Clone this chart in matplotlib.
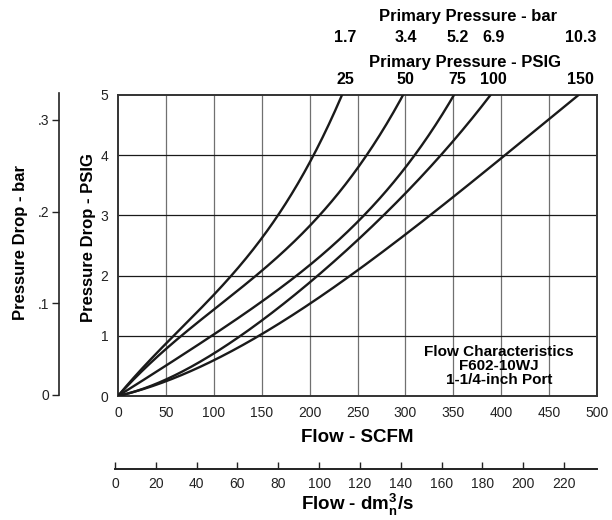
#!/usr/bin/env python3
# === Flow characteristics chart: pressure drop vs flow for several primary pressures ===

import numpy as np
import matplotlib
matplotlib.use("Agg")
import matplotlib.pyplot as plt
import matplotlib.transforms as mtransforms

plt.rcParams['font.family'] = ['Liberation Sans', 'DejaVu Sans']
plt.rcParams['mathtext.fontset'] = 'custom'
plt.rcParams['mathtext.rm'] = 'Liberation Sans'
plt.rcParams['mathtext.bf'] = 'Liberation Sans:bold'

# === Data ===
psig_25_flow = [0, 50, 100, 150, 200, 234]
psig_25_drop = [0, 0.85, 1.72, 2.58, 3.90, 5.0]

psig_50_flow = [0, 50, 100, 150, 200, 250, 297]
psig_50_drop = [0, 0.71, 1.48, 2.10, 2.82, 3.75, 5.0]

psig_75_flow = [0, 50, 100, 150, 200, 250, 300, 351]
psig_75_drop = [0, 0.46, 1.07, 1.57, 2.15, 2.88, 3.82, 5.0]

psig_100_flow = [0, 50, 100, 150, 200, 250, 300, 350, 389]
psig_100_drop = [0, 0.30, 0.68, 1.24, 1.92, 2.58, 3.35, 4.25, 5.0]

psig_150_flow = [0, 50, 100, 150, 200, 250, 300, 350, 400, 450, 480]
psig_150_drop = [0, 0.27, 0.58, 1.02, 1.52, 2.10, 2.70, 3.28, 3.97, 4.58, 5.0]

curves = [
    (psig_25_flow, psig_25_drop),
    (psig_50_flow, psig_50_drop),
    (psig_75_flow, psig_75_drop),
    (psig_100_flow, psig_100_drop),
    (psig_150_flow, psig_150_drop),
]

psig_labels = ['25', '50', '75', '100', '150']
bar_labels = ['1.7', '3.4', '5.2', '6.9', '10.3']

scfm_ticks = [0, 50, 100, 150, 200, 250, 300, 350, 400, 450, 500]
psig_ticks = [0, 1, 2, 3, 4, 5]
dm3_ticks = [0, 20, 40, 60, 80, 100, 120, 140, 160, 180, 200, 220]
bar_ticks = [0, 0.1, 0.2, 0.3]
bar_tick_labels = ['0', '.1', '.2', '.3']

SCFM_TO_DM3S = 0.4719

W, H = 612, 520


def smooth(flow, drop):
    # least squares polynomial through the origin, just to draw a smooth line
    x = np.asarray(flow, float)
    y = np.asarray(drop, float)
    deg = 4 if len(x) > 7 else 3
    A = np.vstack([x**k for k in range(1, deg + 1)]).T
    coef = np.linalg.lstsq(A, y, rcond=None)[0]
    xs = np.linspace(0, x[-1] * 1.03, 300)
    ys = sum(c * xs**(k + 1) for k, c in enumerate(coef))
    return xs, ys


fig = plt.figure(figsize=(W / 100, H / 100), dpi=100)

# === Main axes ===
ax = fig.add_axes([118 / W, 124 / H, 479 / W, 301 / H])
ax.set_xlim(0, 500)
ax.set_ylim(0, 5)
ax.set_xticks(scfm_ticks)
ax.set_yticks(psig_ticks)
ax.tick_params(length=0, labelsize=10, pad=7, labelcolor='#222222')
for v in scfm_ticks[1:-1]:
    ax.axvline(v, color='#707070', lw=0.9, zorder=1)
for v in psig_ticks[1:-1]:
    ax.axhline(v, color='#1a1a1a', lw=0.9, zorder=1)
for s in ax.spines.values():
    s.set_color('#333333')
    s.set_linewidth(1.4)

for flow, drop in curves:
    xs, ys = smooth(flow, drop)
    ax.plot(xs, ys, color='#1a1a1a', lw=1.7, zorder=3, solid_capstyle='round')

fig.text(357 / W, 1 - 438 / H, 'Flow - SCFM', ha='center', va='center',
         fontsize=13.5, fontweight='bold')

fig.text(499 / W, 1 - 366 / H, 'Flow Characteristics\nF602-10WJ\n1-1/4-inch Port',
         ha='center', va='center', fontsize=11, fontweight='bold', linespacing=1.0)

# === Top labels at curve ends ===
top = mtransforms.blended_transform_factory(ax.transData, fig.transFigure)
shift = mtransforms.ScaledTranslation(3 / 100, 0, fig.dpi_scale_trans)
for (flow, drop), p, b in zip(curves, psig_labels, bar_labels):
    ax.text(flow[-1], 1 - 80 / H, p, transform=top + shift, ha='center', va='center',
            fontsize=11.5, fontweight='bold', clip_on=False)
    ax.text(flow[-1], 1 - 37 / H, b, transform=top + shift, ha='center', va='center',
            fontsize=11.5, fontweight='bold', clip_on=False)
fig.text(465 / W, 1 - 62 / H, 'Primary Pressure - PSIG', ha='center', va='center',
         fontsize=12, fontweight='bold')
fig.text(468 / W, 1 - 16 / H, 'Primary Pressure - bar', ha='center', va='center',
         fontsize=12, fontweight='bold')

# === Left labels ===
fig.text(88 / W, 1 - 238 / H, 'Pressure Drop - PSIG', rotation=90, ha='center', va='center',
         fontsize=12, fontweight='bold')
fig.text(21 / W, 1 - 242 / H, 'Pressure Drop - bar', rotation=90, ha='center', va='center',
         fontsize=12, fontweight='bold')

# === Secondary bar axis (left) ===
axb = fig.add_axes([59 / W, 125 / H, 0.001, 301.7 / H])
axb.set_ylim(0, 0.329)
axb.set_xticks([])
axb.set_yticks(bar_ticks)
axb.set_yticklabels(bar_tick_labels)
axb.tick_params(axis='y', direction='out', length=5, width=1, labelsize=10, pad=2,
                color='#222222', labelcolor='#222222')
for k in ['top', 'right', 'bottom']:
    axb.spines[k].set_visible(False)
axb.spines['left'].set_linewidth(1.2)
axb.spines['left'].set_color('#222222')
axb.patch.set_visible(False)

# === Secondary dm3/s axis (bottom) ===
axd = fig.add_axes([115 / W, 51 / H, 481.7 / W, 0.001])
axd.set_xlim(0, 500 * SCFM_TO_DM3S)
axd.set_yticks([])
axd.set_xticks(dm3_ticks)
axd.tick_params(axis='x', direction='in', length=5, width=1, labelsize=10, pad=6,
                color='#222222', labelcolor='#222222')
for k in ['top', 'right', 'left']:
    axd.spines[k].set_visible(False)
axd.spines['bottom'].set_linewidth(1.4)
axd.spines['bottom'].set_color('#222222')
axd.patch.set_visible(False)

fig.text(358 / W, 1 - 505 / H, r'Flow - dm$_{\mathbf{n}}^{\mathbf{3}}$/s', ha='center', va='center',
         fontsize=13.5, fontweight='bold')

fig.savefig('out.png', dpi=100)
